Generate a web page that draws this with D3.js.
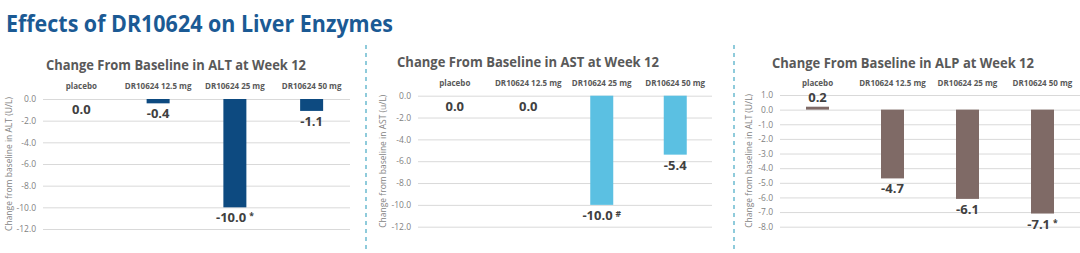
<!DOCTYPE html>
<html>
<head>
<meta charset="utf-8">
<script src="https://cdn.jsdelivr.net/npm/d3@7"></script>
<style>
  body { margin: 0; background: #fff; }
  svg { display: block; font-family: "Open Sans", "Noto Sans", sans-serif; }
</style>
</head>
<body>
<div id="chart"></div>
<script>
// --- DATA ---
const categories = ["placebo", "DR10624 12.5 mg", "DR10624 25 mg", "DR10624 50 mg"];
const altValues = [0.0, -0.4, -10.0, -1.1];
const astValues = [0.0, 0.0, -10.0, -5.4];
const alpValues = [0.2, -4.7, -6.1, -7.1];
const altMarks = ["", "", "*", ""];
const astMarks = ["", "", "#", ""];
const alpMarks = ["", "", "", "*"];
const altTicks = [0, -2, -4, -6, -8, -10, -12];
const astTicks = [0, -2, -4, -6, -8, -10, -12];
const alpTicks = [1, 0, -1, -2, -3, -4, -5, -6, -7, -8];

// --- SETUP ---
const largeur = 1080, hauteur = 253;
const svg = d3.select("#chart").append("svg")
  .attr("width", largeur)
  .attr("height", hauteur);

// plain hyphen like the original slide (d3.format gives a unicode minus)
const fmt = d => (Math.abs(d) < 1e-9 ? 0 : d).toFixed(1);

// main title
svg.append("text")
  .attr("x", 6).attr("y", 32)
  .attr("font-size", 23).attr("font-weight", 700)
  .attr("fill", "#1b5a94")
  .attr("textLength", 387).attr("lengthAdjust", "spacingAndGlyphs")
  .text("Effects of DR10624 on Liver Enzymes");

// dashed dividers
[366, 734].forEach(x => {
  svg.append("line")
    .attr("x1", x).attr("x2", x).attr("y1", 45).attr("y2", hauteur)
    .attr("stroke", "#6bbbd0").attr("stroke-width", 1.5)
    .attr("stroke-dasharray", "4,4");
});

// one panel = one small bar chart
function drawPanel(p) {
  const g = svg.append("g");
  const x = d3.scaleBand().domain(categories).range(p.xRange).padding(0);
  const y = d3.scaleLinear().domain(p.yDomain).range(p.yRange);

  // panel title
  g.append("text")
    .attr("x", p.titleX).attr("y", p.titleY)
    .attr("text-anchor", "middle")
    .attr("font-size", 14.5).attr("font-weight", 700)
    .attr("fill", "#595959")
    .attr("textLength", p.titleW).attr("lengthAdjust", "spacingAndGlyphs")
    .text(p.title);

  // gridlines + tick labels through the axis
  const axis = d3.axisLeft(y).tickValues(p.ticks)
    .tickFormat(fmt)
    .tickSize(-(p.xRange[1] - p.xRange[0])).tickPadding(7);
  const ax = g.append("g")
    .attr("transform", `translate(${p.xRange[0]},0)`)
    .call(axis);
  ax.select(".domain").remove();
  ax.selectAll(".tick line").attr("stroke", "#d9d9d9").attr("stroke-width", 1);
  ax.selectAll(".tick text")
    .attr("fill", "#7f7f7f").attr("font-size", 8.5)
    .attr("font-family", "'Open Sans', sans-serif");

  // y axis title
  g.append("text")
    .attr("transform", `translate(${p.yTitleX},${(p.yRange[0] + p.yRange[1]) / 2}) rotate(-90)`)
    .attr("text-anchor", "middle")
    .attr("font-size", 8.5).attr("fill", "#7f7f7f")
    .text(p.yTitle);

  // category labels
  g.selectAll(".cat").data(categories).join("text")
    .attr("x", d => x(d) + x.bandwidth() / 2)
    .attr("y", p.catY)
    .attr("text-anchor", "middle")
    .attr("font-size", 8).attr("font-weight", 700)
    .attr("fill", "#595959")
    .text(d => d);

  // bars
  const bw = 23;
  g.selectAll(".bar").data(p.values).join("rect")
    .attr("x", (d, i) => x(categories[i]) + x.bandwidth() / 2 - bw / 2)
    .attr("y", d => Math.min(y(0), y(d)))
    .attr("width", bw)
    .attr("height", d => Math.abs(y(d) - y(0)))
    .attr("fill", p.color);

  // value labels
  const lab = g.selectAll(".val").data(p.values).join("text")
    .attr("x", (d, i) => x(categories[i]) + x.bandwidth() / 2)
    .attr("y", d => d > 0 ? y(d) - 5 : y(d) + 15)
    .attr("text-anchor", "middle")
    .attr("font-size", 13).attr("font-weight", 700)
    .attr("fill", "#404040");
  lab.each(function(d, i) {
    const t = d3.select(this);
    t.append("tspan").text(fmt(d));
    if (p.marks[i]) {
      t.append("tspan").attr("font-size", 8.5).attr("dx", 3).attr("dy", -3).text(p.marks[i]);
    }
  });
}

drawPanel({
  title: "Change From Baseline in ALT at Week 12", titleX: 176, titleY: 70, titleW: 260,
  yTitle: "Change from baseline in ALT (U/L)", yTitleX: 12,
  xRange: [43, 350], yDomain: [0, -12], yRange: [99, 229],
  ticks: altTicks, values: altValues, marks: altMarks, color: "#0d4a80", catY: 89
});
drawPanel({
  title: "Change From Baseline in AST at Week 12", titleX: 528, titleY: 67, titleW: 262,
  yTitle: "Change from baseline in AST (u/L)", yTitleX: 386,
  xRange: [418, 712], yDomain: [0, -12], yRange: [95.7, 226.7],
  ticks: astTicks, values: astValues, marks: astMarks, color: "#5bc0e2", catY: 86
});
drawPanel({
  title: "Change From Baseline in ALP at Week 12", titleX: 903, titleY: 68, titleW: 262,
  yTitle: "Change from baseline in ALT (U/L)", yTitleX: 752,
  xRange: [780, 1080], yDomain: [1, -8], yRange: [95, 226.7],
  ticks: alpTicks, values: alpValues, marks: alpMarks, color: "#7f6a66", catY: 86
});
</script>
</body>
</html>
